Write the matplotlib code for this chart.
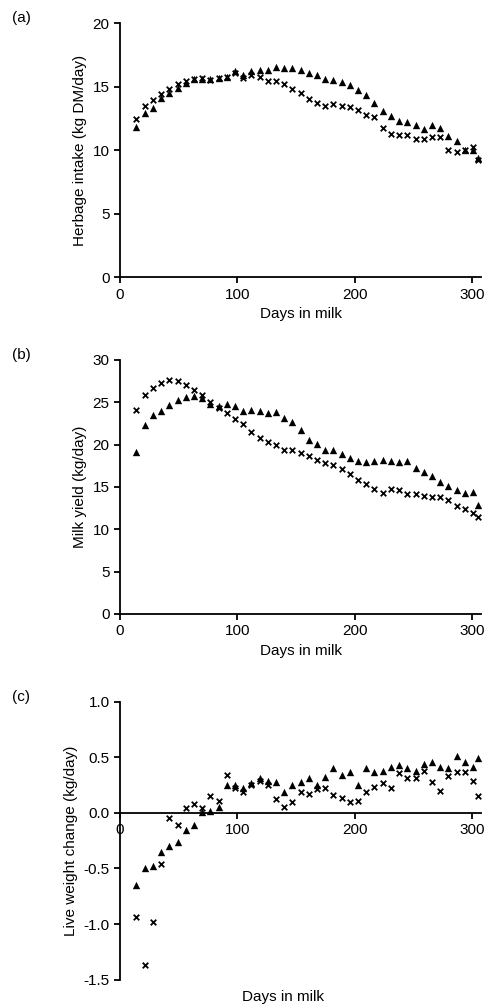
import matplotlib.pyplot as plt

days = [14, 21, 28, 35, 42, 49, 56, 63, 70, 77, 84, 91, 98, 105, 112, 119, 126, 133,
        140, 147, 154, 161, 168, 175, 182, 189, 196, 203, 210, 217, 224, 231, 238,
        245, 252, 259, 266, 273, 280, 287, 294, 301, 305]

# herbage intake (kg DM/day)
intake_tri = [11.8, 12.9, 13.3, 14.1, 14.5, 14.9, 15.3, 15.6, 15.6, 15.6, 15.7, 15.8,
              16.2, 15.9, 16.2, 16.3, 16.35, 16.55, 16.5, 16.5, 16.3, 16.05, 15.95,
              15.6, 15.5, 15.35, 15.1, 14.7, 14.35, 13.75, 13.1, 12.7, 12.3, 12.2,
              12.0, 11.7, 12.0, 11.75, 11.1, 10.7, 10.0, 10.0, 9.4]
intake_x = [12.45, 13.45, 13.95, 14.4, 14.85, 15.2, 15.45, 15.6, 15.65, 15.5, 15.7,
            15.8, 16.1, 15.7, 15.9, 15.8, 15.45, 15.45, 15.2, 14.8, 14.5, 14.05,
            13.75, 13.45, 13.65, 13.5, 13.4, 13.2, 12.8, 12.6, 11.75, 11.3, 11.2,
            11.2, 10.9, 10.85, 11.05, 11.05, 10.0, 9.85, 10.0, 10.25, 9.2]

# milk yield (kg/day)
milk_tri = [19.1, 22.3, 23.5, 24.0, 24.7, 25.2, 25.6, 25.7, 25.5, 24.8, 24.5, 24.8,
            24.5, 24.0, 24.1, 24.0, 23.7, 23.9, 23.1, 22.7, 21.7, 20.5, 20.1, 19.3,
            19.3, 18.9, 18.4, 18.1, 17.95, 18.1, 18.2, 18.1, 17.9, 18.0, 17.2, 16.8,
            16.3, 15.6, 15.1, 14.6, 14.3, 14.4, 12.9]
milk_x = [24.1, 25.9, 26.7, 27.3, 27.6, 27.5, 27.0, 26.4, 25.9, 25.0, 24.3, 23.7,
          23.0, 22.4, 21.5, 20.8, 20.3, 19.9, 19.4, 19.4, 19.0, 18.7, 18.2, 17.8,
          17.6, 17.1, 16.5, 15.8, 15.3, 14.8, 14.3, 14.8, 14.6, 14.1, 14.1, 13.9,
          13.8, 13.8, 13.5, 12.7, 12.4, 11.9, 11.4]

# live weight change (kg/day)
lw_tri = [-0.65, -0.50, -0.48, -0.35, -0.30, -0.26, -0.15, -0.11, 0.01, 0.02, 0.05,
          0.25, 0.25, 0.22, 0.27, 0.31, 0.29, 0.28, 0.19, 0.25, 0.28, 0.31, 0.25,
          0.32, 0.40, 0.34, 0.37, 0.25, 0.40, 0.37, 0.38, 0.41, 0.43, 0.40, 0.38,
          0.44, 0.46, 0.41, 0.40, 0.51, 0.46, 0.41, 0.49]
lw_x = [-0.94, -1.37, -0.98, -0.46, -0.05, -0.11, 0.04, 0.08, 0.04, 0.15, 0.11, 0.34,
        0.22, 0.19, 0.25, 0.29, 0.25, 0.12, 0.05, 0.10, 0.19, 0.17, 0.21, 0.22, 0.16,
        0.13, 0.10, 0.11, 0.19, 0.23, 0.27, 0.22, 0.36, 0.31, 0.31, 0.38, 0.28, 0.20,
        0.33, 0.37, 0.37, 0.29, 0.15]

plt.rcParams["font.family"] = ["Liberation Sans", "DejaVu Sans"]
plt.rcParams["font.size"] = 11

fig = plt.figure(figsize=(4.92, 10.08), dpi=100)
panels = [
    ([0.244, 0.725, 0.734, 0.252], intake_tri, intake_x, (0, 20), [0, 5, 10, 15, 20],
     "Herbage intake (kg DM/day)", "(a)", "{:.0f}"),
    ([0.244, 0.391, 0.734, 0.252], milk_tri, milk_x, (0, 30), [0, 5, 10, 15, 20, 25, 30],
     "Milk yield (kg/day)", "(b)", "{:.0f}"),
    ([0.244, 0.028, 0.734, 0.276], lw_tri, lw_x, (-1.5, 1.0),
     [-1.5, -1.0, -0.5, 0.0, 0.5, 1.0], "Live weight change (kg/day)", "(c)", "{:.1f}"),
]

for rect, tri, crs, ylim, yticks, ylabel, tag, fmt in panels:
    ax = fig.add_axes(rect)
    ax.scatter(days, tri, marker="^", s=28, color="black", linewidths=0)
    ax.scatter(days, crs, marker="x", s=16, color="black", linewidths=1.3)
    ax.set_xlim(0, 308)
    ax.set_ylim(*ylim)
    ax.set_xticks([0, 100, 200, 300])
    ax.set_yticks(yticks)
    ax.set_yticklabels([fmt.format(v) for v in yticks])
    ax.set_ylabel(ylabel)
    for side in ("top", "right"):
        ax.spines[side].set_visible(False)
    for side in ("left", "bottom"):
        ax.spines[side].set_linewidth(1.3)
    ax.tick_params(width=1.3, length=4)
    fig.text(0.025, rect[1] + rect[3] + 0.005, tag, fontsize=11, va="center")
    if tag == "(c)":
        ax.spines["bottom"].set_position(("data", 0))
        ax.set_xlabel("Days in milk", labelpad=0)
        ax.xaxis.set_label_coords(0.45, -0.035)
    else:
        ax.set_xlabel("Days in milk")

fig.savefig("out.png", dpi=100)
